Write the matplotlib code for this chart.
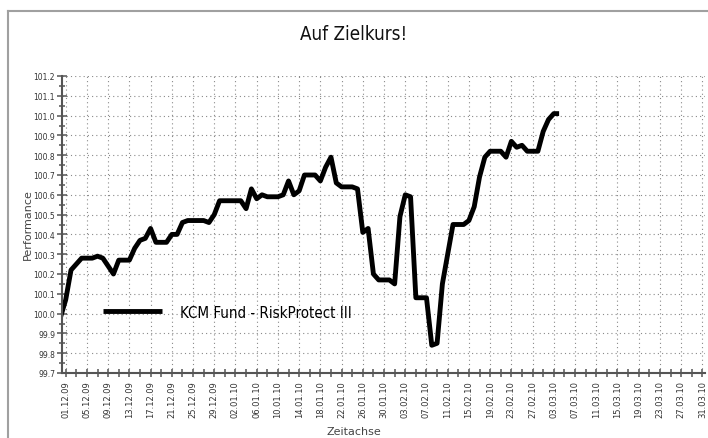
import matplotlib
matplotlib.use('Agg')
import matplotlib.pyplot as plt
import matplotlib.dates as mdates
from matplotlib.ticker import MultipleLocator, FormatStrFormatter, FixedLocator
from matplotlib.lines import Line2D
from matplotlib import font_manager
from matplotlib.font_manager import FontProperties
import os
import pandas as pd

# ---------------- data ----------------
title = 'Auf Zielkurs!'
series_name = 'KCM Fund - RiskProtect III'
x_label = 'Zeitachse'
y_label = 'Performance'

start_date = '2009-11-30'   # daily values (weekends carried forward)
performance = [
    99.98,                                                   # 30.11
    100.07, 100.22, 100.25, 100.28, 100.28, 100.28, 100.29,  # 01.12-07.12
    100.28, 100.24, 100.20, 100.27, 100.27, 100.27, 100.33,  # 08.12-14.12
    100.37, 100.38, 100.43, 100.36, 100.36, 100.36, 100.40,  # 15.12-21.12
    100.40, 100.46, 100.47, 100.47, 100.47, 100.47, 100.46,  # 22.12-28.12
    100.50, 100.57, 100.57, 100.57, 100.57, 100.57, 100.53,  # 29.12-04.01
    100.63, 100.58, 100.60, 100.59, 100.59, 100.59, 100.60,  # 05.01-11.01
    100.67, 100.60, 100.62, 100.70, 100.70, 100.70, 100.67,  # 12.01-18.01
    100.74, 100.79, 100.66, 100.64, 100.64, 100.64, 100.63,  # 19.01-25.01
    100.41, 100.43, 100.20, 100.17, 100.17, 100.17, 100.15,  # 26.01-01.02
    100.49, 100.60, 100.59, 100.08, 100.08, 100.08, 99.84,   # 02.02-08.02
    99.85, 100.15, 100.30, 100.45, 100.45, 100.45, 100.47,   # 09.02-15.02
    100.54, 100.69, 100.79, 100.82, 100.82, 100.82, 100.79,  # 16.02-22.02
    100.87, 100.84, 100.85, 100.82, 100.82, 100.82, 100.92,  # 23.02-01.03
    100.98, 101.01, 101.01,                                  # 02.03-04.03
]
dates = pd.date_range(start_date, periods=len(performance), freq='D')

tick_label_start = '2009-12-01'
tick_label_end = '2010-03-31'
y_min, y_max = 99.7, 101.2

# ---------------- fonts: look for a narrow sans ----------------
def find_narrow():
    cands = []
    for f in font_manager.fontManager.ttflist:
        base = os.path.basename(f.fname).lower()
        if any(k in base for k in ('bold', 'italic', 'oblique')):
            continue
        if 'liberationsansnarrow' in base.replace('-', ''):
            cands.append((0, f.fname))
        elif 'dejavusanscondensed' in base.replace('-', ''):
            cands.append((1, f.fname))
        elif ('condensed' in base or 'narrow' in base) and 'sans' in base and 'mono' not in base:
            cands.append((2, f.fname))
    if cands:
        cands.sort()
        return cands[0][1]
    return None

narrow_file = find_narrow()

def nfont(size):
    if narrow_file:
        return FontProperties(fname=narrow_file, size=size)
    return FontProperties(family='Liberation Sans', size=size * 0.85)

# ---------------- figure ----------------
W, H = 708, 439
fig = plt.figure(figsize=(W / 100, H / 100), dpi=100)
fig.patch.set_facecolor('white')
ax = fig.add_axes([62 / W, 1 - 374 / H, (705 - 62) / W, (374 - 77) / H])

ax.plot(dates, performance, color='black', lw=3.5,
        solid_joinstyle='round', solid_capstyle='butt', label=series_name)

d0 = mdates.date2num(pd.Timestamp(tick_label_start))
ax.set_xlim(d0 - 0.7, d0 + 120.5)
ax.set_ylim(y_min, y_max)

major_x = mdates.date2num(pd.date_range(tick_label_start, tick_label_end, freq='4D'))
minor_x = mdates.date2num(pd.date_range(tick_label_start, tick_label_end, freq='2D'))
ax.xaxis.set_major_locator(FixedLocator(major_x))
ax.xaxis.set_minor_locator(FixedLocator(minor_x))
ax.xaxis.set_major_formatter(mdates.DateFormatter('%d.%m.%y'))
ax.yaxis.set_major_locator(MultipleLocator(0.1))
ax.yaxis.set_minor_locator(MultipleLocator(0.05))
ax.yaxis.set_major_formatter(FormatStrFormatter('%.1f'))

grid_kw = dict(color='#8a8a8a', linestyle=(0, (1, 2.8)), lw=0.8)
ax.grid(True, which='major', axis='both', **grid_kw)
ax.set_axisbelow(True)

for s in ['top', 'right']:
    ax.spines[s].set_visible(False)
for s in ['left', 'bottom']:
    ax.spines[s].set_color('#555555')
    ax.spines[s].set_linewidth(1.5)

ax.tick_params(axis='both', which='both', direction='inout', color='#555555', width=1.1)
ax.tick_params(axis='x', which='both', length=6, labelsize=6, labelcolor='#333333',
               labelrotation=90, pad=2)
ax.tick_params(axis='y', which='major', length=7, labelsize=5.5, labelcolor='#333333', pad=1.5)
ax.tick_params(axis='y', which='minor', length=4)

leg_fs = 10.8
leg = ax.legend(loc='center left',
                bbox_to_anchor=((103 - 62) / (705 - 62), (374 - 313) / (374 - 77)),
                frameon=False, borderpad=0, borderaxespad=0,
                handlelength=59 / (leg_fs * 100 / 72), handletextpad=18 / (leg_fs * 100 / 72),
                prop=nfont(leg_fs))

fig.text(354 / W, 1 - 34 / H, title, ha='center', va='center',
         fontproperties=nfont(13.5), color='#111111')
fig.text(354 / W, 1 - 432 / H, x_label, ha='center', va='center', fontsize=8,
         color='#444444')
fig.text(28 / W, 1 - 225 / H, y_label, ha='center', va='center', fontsize=8,
         rotation=90, color='#444444')

# outer frame (left and top edges visible)
fig.add_artist(Line2D([8 / W, 8 / W], [0, 1 - 12 / H], transform=fig.transFigure,
                      color='#a0a0a0', lw=1.5))
fig.add_artist(Line2D([8 / W, 1], [1 - 12 / H, 1 - 12 / H], transform=fig.transFigure,
                      color='#a0a0a0', lw=1.5))

fig.savefig('out.png', dpi=100, facecolor='white')
